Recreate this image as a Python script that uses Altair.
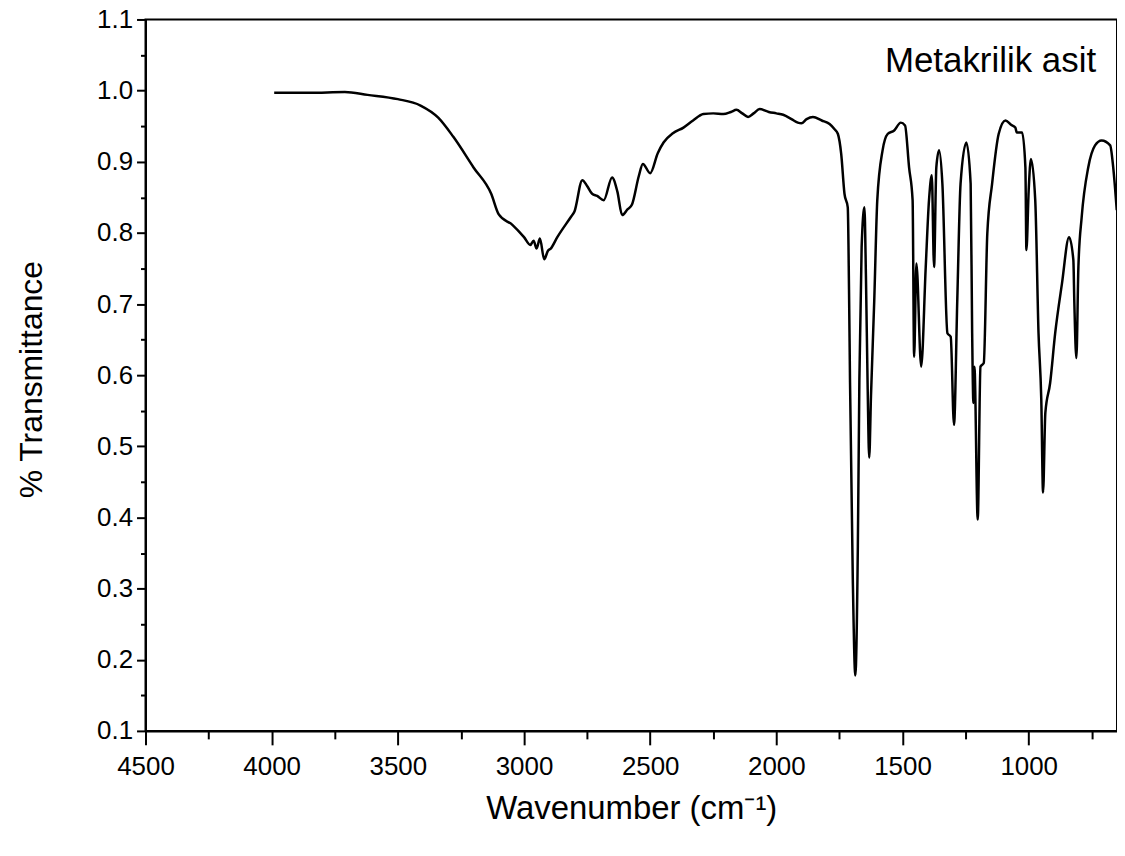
import altair as alt
import pandas as pd

# ---- data ----
wavenumber = [3990, 3850, 3710, 3620, 3500, 3410, 3340, 3280, 3200, 3130, 3100, 3045,
              3000, 2975, 2962, 2950, 2937, 2920, 2905, 2894, 2868, 2815, 2800, 2769,
              2750, 2730, 2710, 2684, 2651, 2630, 2611, 2590, 2572, 2545, 2529, 2500,
              2470, 2447, 2410, 2368, 2330, 2289, 2250, 2210, 2180, 2158, 2135, 2112,
              2090, 2066, 2030, 2000, 1973, 1940, 1915, 1901, 1880, 1855, 1820, 1789,
              1770, 1756, 1743, 1730, 1717, 1712, 1708, 1697, 1687, 1677, 1671, 1662,
              1651, 1645, 1638, 1632, 1625, 1612, 1600, 1579, 1559, 1533, 1507, 1490,
              1474, 1460, 1454, 1445, 1426, 1408, 1395, 1384, 1375, 1366, 1355, 1342,
              1322, 1309, 1296, 1283, 1270, 1247, 1230, 1224, 1219, 1215, 1202, 1191,
              1178, 1164, 1145, 1119, 1092, 1070, 1053, 1047, 1026, 1013, 1009, 1000,
              991, 974, 961, 950, 943, 934, 915, 895, 868, 840, 823, 819,
              811, 803, 790, 764, 737, 711, 677, 665, 651]
transmittance = [0.997, 0.997, 0.998, 0.994, 0.988, 0.979, 0.962, 0.935, 0.892, 0.855, 0.826, 0.811,
                 0.794, 0.783, 0.789, 0.778, 0.792, 0.763, 0.775, 0.778, 0.794, 0.822, 0.830, 0.874,
                 0.866, 0.855, 0.852, 0.846, 0.878, 0.858, 0.825, 0.833, 0.840, 0.880, 0.897, 0.884,
                 0.912, 0.927, 0.940, 0.948, 0.958, 0.967, 0.968, 0.967, 0.970, 0.973, 0.968, 0.963,
                 0.968, 0.974, 0.970, 0.968, 0.966, 0.960, 0.955, 0.954, 0.960, 0.963, 0.958, 0.953,
                 0.946, 0.939, 0.911, 0.855, 0.836, 0.720, 0.590, 0.313, 0.178, 0.360, 0.593, 0.780,
                 0.836, 0.740, 0.580, 0.484, 0.570, 0.705, 0.846, 0.916, 0.939, 0.944, 0.955, 0.951,
                 0.892, 0.846, 0.626, 0.757, 0.612, 0.752, 0.846, 0.881, 0.752, 0.892, 0.916, 0.869,
                 0.659, 0.654, 0.530, 0.705, 0.869, 0.927, 0.869, 0.659, 0.561, 0.612, 0.397, 0.612,
                 0.617, 0.799, 0.869, 0.939, 0.958, 0.952, 0.948, 0.941, 0.941, 0.892, 0.776, 0.860,
                 0.904, 0.846, 0.659, 0.565, 0.435, 0.547, 0.589, 0.659, 0.729, 0.794, 0.762, 0.701,
                 0.624, 0.752, 0.822, 0.892, 0.923, 0.930, 0.923, 0.892, 0.832]

x_ticks = [4500, 4250, 4000, 3750, 3500, 3250, 3000, 2750, 2500, 2250, 2000,
           1750, 1500, 1250, 1000, 750]
y_ticks = [0.1, 0.15, 0.2, 0.25, 0.3, 0.35, 0.4, 0.45, 0.5, 0.55, 0.6, 0.65,
           0.7, 0.75, 0.8, 0.85, 0.9, 0.95, 1.0, 1.05, 1.1]
x_title = "Wavenumber (cm⁻¹)"
y_title = "% Transmittance"
annotation = ["Metakrilik asit"]

FONT = "Liberation Sans"
W, H = 975, 714

df = pd.DataFrame({"wn": wavenumber, "T": transmittance})

x_major = "datum.value % 500 === 0"
y_major = "round(datum.value * 100) % 10 === 0"

x_axis = alt.Axis(
    values=x_ticks, format="d", grid=False,
    labelExpr=f"{x_major} ? datum.label : ''",
    tickSize={"condition": {"test": x_major, "value": 14}, "value": 8},
    labelFlush=False, labelOverlap=False, labelPadding=9,
    title=x_title, titleX=W / 2, titleY=78, titleBaseline="middle", titleAlign="center",
    titleFontSize=33,
)
y_axis = alt.Axis(
    values=y_ticks, format=".1f", grid=False,
    labelExpr=f"{y_major} ? datum.label : ''",
    tickSize={"condition": {"test": y_major, "value": 9}, "value": 5},
    labelFlush=False, labelOverlap=False, labelPadding=4,
    title=y_title, titleX=-114, titleY=H / 2 + 4, titleAngle=270,
    titleBaseline="middle", titleAlign="center", titleFontSize=32,
)

line = alt.Chart(df).mark_line(color="black", strokeWidth=2.5, interpolate="monotone").encode(
    x=alt.X("wn:Q", scale=alt.Scale(domain=[4500, 650], nice=False, zero=False), axis=x_axis),
    y=alt.Y("T:Q", scale=alt.Scale(domain=[0.1, 1.1], nice=False, zero=False), axis=y_axis),
)

label = alt.Chart(pd.DataFrame({"label": annotation})).mark_text(
    align="right", baseline="middle", font=FONT, fontSize=35, color="black"
).encode(x=alt.value(W - 21), y=alt.value(42), text="label:N")

chart = (
    alt.layer(line, label)
    .properties(width=W, height=H, autosize="none",
                padding={"left": 138, "top": 10, "right": 0, "bottom": 110})
    .configure_view(stroke="black", strokeWidth=2)
    .configure_axis(
        domainColor="black", domainWidth=2, tickColor="black", tickWidth=2,
        labelFont=FONT, labelFontSize=26, labelColor="black",
        titleFont=FONT, titleFontWeight="normal", titleColor="black",
    )
)

chart.save("out.html", embed_options={"renderer": "svg", "actions": False})
